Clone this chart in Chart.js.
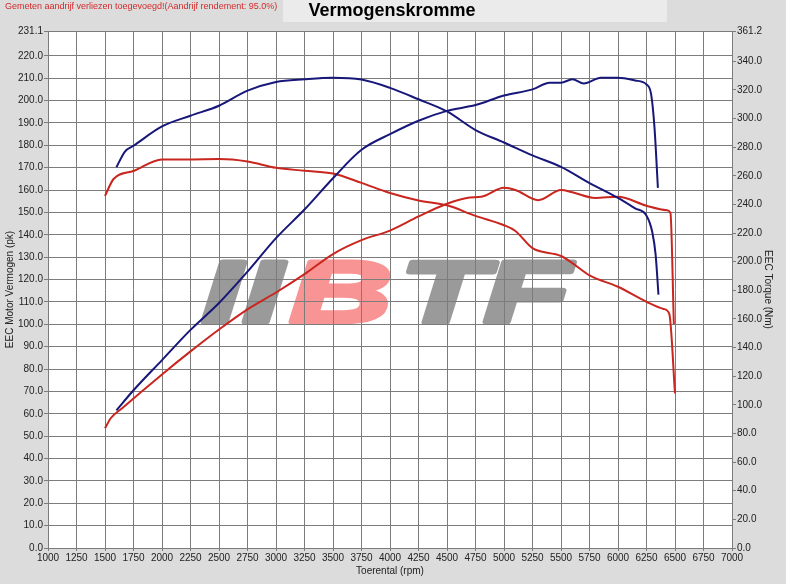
<!DOCTYPE html>
<html>
<head>
<meta charset="utf-8">
<title>Vermogenskromme</title>
<script src="https://cdn.jsdelivr.net/npm/chart.js@4.4.1/dist/chart.umd.min.js"></script>
<style>
  html, body { margin: 0; padding: 0; background: #dcdcdc; }
  #wrap { width: 786px; height: 584px; position: relative; }
</style>
</head>
<body>
<div id="wrap"><canvas id="dynoChart" width="786" height="584"></canvas></div>
<script>
// Tick labels
const pkTicks = [0, 10, 20, 30, 40, 50, 60, 70, 80, 90, 100, 110, 120, 130, 140, 150, 160, 170, 180, 190, 200, 210, 220, 231.1];
const nmTicks = [0, 20, 40, 60, 80, 100, 120, 140, 160, 180, 200, 220, 240, 260, 280, 300, 320, 340, 361.2];

// Blue run - power (pk)
const bluePowerRpm = [1600, 1750, 2000, 2250, 2500, 2750, 3000, 3250, 3500, 3750, 4000, 4250, 4500, 4750, 5000, 5250, 5400, 5500, 5600, 5700, 5850, 6000, 6150, 6250, 6290, 6320, 6350];
const bluePower = [61.5, 70.5, 84, 97.5, 109.5, 123.5, 138.5, 151.3, 165.3, 178, 185, 191, 195.4, 198, 202.3, 205, 208, 208, 209.5, 207.6, 210.2, 210.2, 209, 207.2, 203, 188, 161];

// Blue run - torque (Nm)
const blueTorqueRpm = [1600, 1675, 1750, 2000, 2250, 2500, 2750, 3000, 3250, 3500, 3750, 4000, 4250, 4500, 4750, 5000, 5250, 5500, 5750, 6000, 6150, 6250, 6300, 6330, 6355];
const blueTorque = [266, 277, 281, 294.5, 302, 309, 319.5, 325.6, 327.5, 328.6, 327.3, 321.5, 313.5, 305, 292, 283.3, 274.3, 266.3, 255, 244.6, 237.3, 232.2, 221, 205, 177];

// Red run - power (pk)
const redPowerRpm = [1500, 1550, 1650, 2000, 2250, 2500, 2750, 3000, 3250, 3500, 3750, 4000, 4250, 4500, 4700, 4800, 5000, 5100, 5300, 5500, 5600, 5800, 6000, 6250, 6430, 6460, 6490];
const redPower = [53.5, 58, 62.5, 77.6, 87.9, 97.7, 106.7, 114.2, 122.4, 131.4, 137.6, 141.9, 148.2, 153.9, 156.7, 157, 161, 160, 155.5, 160, 159, 156.5, 157, 153, 151, 149.8, 100];

// Red run - torque (Nm)
const redTorqueRpm = [1500, 1575, 1750, 2000, 2250, 2500, 2750, 3000, 3250, 3500, 3750, 4000, 4250, 4500, 4750, 5000, 5100, 5250, 5500, 5600, 5750, 6000, 6250, 6400, 6450, 6500];
const redTorque = [246, 257.8, 263.4, 271.5, 271.5, 271.7, 270, 265.6, 263.6, 261.6, 255.1, 248, 242.8, 239.4, 232, 225.5, 221.5, 209.5, 204, 199, 190.5, 182.5, 172, 167, 163.5, 108];

const BLUE = '#17177a';
const RED = '#c8261e';
const GRID = '#7c7c7c';
const TEXT = '#222222';
const FONT = "'Liberation Sans', Arial, sans-serif";

function toPoints(xs, ys) {
    return xs.map((x, i) => ({ x: x, y: ys[i] }));
}

function makeLine(xs, ys, color, axis) {
    return {
        data: toPoints(xs, ys),
        yAxisID: axis,
        borderColor: color,
        backgroundColor: color,
        borderWidth: 2,
        pointRadius: 0,
        cubicInterpolationMode: 'monotone',
        fill: false
    };
}

// Background, header texts and watermark
const decorPlugin = {
    id: 'decor',
    beforeDraw(chart) {
        const ctx = chart.ctx;
        const a = chart.chartArea;
        ctx.save();
        ctx.fillStyle = '#dcdcdc';
        ctx.fillRect(0, 0, chart.width, chart.height);
        ctx.fillStyle = '#ebebeb';
        ctx.fillRect(283, 0, 384, 22);
        ctx.fillStyle = '#ffffff';
        ctx.fillRect(a.left, a.top, a.right - a.left, a.bottom - a.top);

        // watermark logo
        const base = 322;
        const letters = [
            ['I', 202, '#9a9a9a'],
            ['I', 243, '#9a9a9a'],
            ['B', 290, '#f99494'],
            ['T', 400, '#9a9a9a'],
            ['F', 484, '#9a9a9a']
        ];
        ctx.font = 'italic bold 88px ' + FONT;
        ctx.textBaseline = 'alphabetic';
        ctx.lineJoin = 'round';
        letters.forEach(l => {
            ctx.save();
            ctx.translate(l[1], base);
            ctx.scale(1.6, 1);
            ctx.fillStyle = l[2];
            ctx.strokeStyle = l[2];
            ctx.lineWidth = 5;
            ctx.fillText(l[0], 0, 0);
            ctx.strokeText(l[0], 0, 0);
            ctx.restore();
        });

        // header
        ctx.fillStyle = '#d42a2a';
        ctx.font = '9px ' + FONT;
        ctx.textBaseline = 'middle';
        ctx.textAlign = 'left';
        ctx.fillText('Gemeten aandrijf verliezen toegevoegd!(Aandrijf rendement: 95.0%)', 5, 7);
        ctx.fillStyle = '#000000';
        ctx.font = 'bold 18px ' + FONT;
        ctx.textAlign = 'center';
        ctx.fillText('Vermogenskromme', 392, 11);
        ctx.restore();
    }
};

const ctx = document.getElementById('dynoChart').getContext('2d');

new Chart(ctx, {
    type: 'line',
    data: {
        datasets: [
            makeLine(blueTorqueRpm, blueTorque, BLUE, 'yNm'),
            makeLine(bluePowerRpm, bluePower, BLUE, 'yPk'),
            makeLine(redTorqueRpm, redTorque, RED, 'yNm'),
            makeLine(redPowerRpm, redPower, RED, 'yPk')
        ]
    },
    options: {
        responsive: false,
        animation: false,
        layout: { padding: { top: 31, left: 0, right: 0, bottom: 0 } },
        plugins: {
            legend: { display: false },
            tooltip: { enabled: false }
        },
        scales: {
            x: {
                type: 'linear',
                min: 1000,
                max: 7000,
                afterFit: s => { s.height = 36; },
                ticks: {
                    stepSize: 250,
                    autoSkip: false,
                    maxRotation: 0,
                    padding: 1,
                    color: TEXT,
                    font: { family: FONT, size: 10 },
                    callback: v => String(v)
                },
                grid: { color: GRID, lineWidth: 1, tickLength: 3 },
                border: { color: GRID },
                title: {
                    display: true,
                    text: 'Toerental (rpm)',
                    color: TEXT,
                    font: { family: FONT, size: 10 },
                    padding: { top: 0, bottom: 7 }
                }
            },
            yPk: {
                type: 'linear',
                position: 'left',
                min: 0,
                max: 231.1,
                afterFit: s => { s.width = 48; },
                afterBuildTicks: s => { s.ticks = pkTicks.map(v => ({ value: v })); },
                ticks: {
                    padding: 1,
                    color: TEXT,
                    font: { family: FONT, size: 10 },
                    callback: v => v.toFixed(1)
                },
                grid: { color: GRID, lineWidth: 1, tickLength: 4 },
                border: { color: GRID },
                title: {
                    display: true,
                    text: 'EEC Motor Vermogen (pk)',
                    color: TEXT,
                    font: { family: FONT, size: 10 },
                    padding: { top: 4, bottom: 0 }
                }
            },
            yNm: {
                type: 'linear',
                position: 'right',
                min: 0,
                max: 361.2,
                afterFit: s => { s.width = 54; },
                afterBuildTicks: s => { s.ticks = nmTicks.map(v => ({ value: v })); },
                ticks: {
                    padding: 1,
                    color: TEXT,
                    font: { family: FONT, size: 10 },
                    callback: v => v.toFixed(1)
                },
                grid: { drawOnChartArea: false, color: GRID, lineWidth: 1, tickLength: 4 },
                border: { color: GRID },
                title: {
                    display: true,
                    text: 'EEC Torque (Nm)',
                    color: TEXT,
                    font: { family: FONT, size: 10 },
                    padding: { top: 12, bottom: 0 }
                }
            }
        }
    },
    plugins: [decorPlugin]
});
</script>
</body>
</html>
